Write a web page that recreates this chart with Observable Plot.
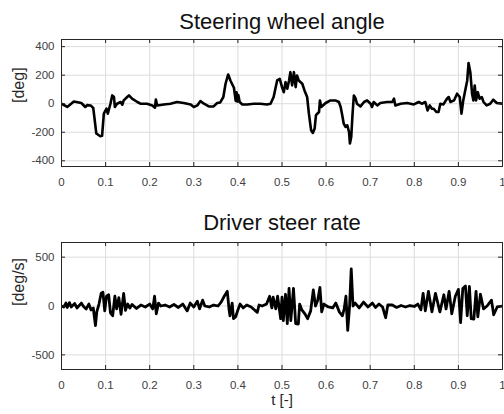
<!DOCTYPE html>
<html>
<head>
<meta charset="utf-8">
<script src="https://cdn.jsdelivr.net/npm/d3@7"></script>
<script src="https://cdn.jsdelivr.net/npm/@observablehq/plot@0.6"></script>
<style>
  html, body { margin: 0; padding: 0; background: #fff; }
  #chart { width: 504px; height: 414px; }
  #chart svg { display: block; }
</style>
</head>
<body>
<div id="chart"></div>
<script>
// ---- data ----
const titles = ["Steering wheel angle", "Driver steer rate"];
const yLabels = ["[deg]", "[deg/s]"];
const xLabel = "t [-]";
const xTicks = [0, 0.1, 0.2, 0.3, 0.4, 0.5, 0.6, 0.7, 0.8, 0.9, 1];
const angleTicks = [-400, -200, 0, 200, 400];
const rateTicks = [-500, 0, 500];

const angleT = [0, 0.013, 0.028, 0.045, 0.054, 0.058, 0.066, 0.072, 0.079, 0.088,
  0.092, 0.096, 0.102, 0.105, 0.111, 0.115, 0.119, 0.121, 0.126, 0.134,
  0.138, 0.141, 0.149, 0.153, 0.160, 0.172, 0.179, 0.194, 0.206, 0.212,
  0.214, 0.217, 0.232, 0.247, 0.262, 0.277, 0.293, 0.300, 0.308, 0.315,
  0.323, 0.334, 0.345, 0.353, 0.360, 0.367, 0.372, 0.378, 0.383, 0.391,
  0.395, 0.397, 0.399, 0.401, 0.404, 0.410, 0.421, 0.436, 0.451, 0.466,
  0.474, 0.481, 0.489, 0.495, 0.500, 0.504, 0.508, 0.512, 0.516, 0.519,
  0.523, 0.527, 0.531, 0.534, 0.538, 0.546, 0.551, 0.557, 0.561, 0.566,
  0.570, 0.574, 0.577, 0.580, 0.584, 0.586, 0.589, 0.599, 0.610, 0.621,
  0.629, 0.633, 0.636, 0.640, 0.644, 0.648, 0.652, 0.654, 0.657, 0.660,
  0.663, 0.667, 0.670, 0.678, 0.686, 0.693, 0.701, 0.704, 0.708, 0.716,
  0.723, 0.738, 0.750, 0.754, 0.757, 0.769, 0.784, 0.799, 0.810, 0.817,
  0.825, 0.830, 0.835, 0.840, 0.844, 0.850, 0.855, 0.859, 0.866, 0.874,
  0.878, 0.882, 0.890, 0.897, 0.903, 0.907, 0.911, 0.914, 0.920, 0.923,
  0.927, 0.931, 0.934, 0.937, 0.940, 0.944, 0.948, 0.953, 0.957, 0.964,
  0.972, 0.979, 0.987, 1.0];
const angle = [0, -23, 16, 5, -23, -10, -12, -30, -209, -228,
  -225, -70, -35, -70, 0, 58, 47, -23, 0, 12,
  -7, 23, 47, 58, 35, 12, 0, 0, -12, -28,
  30, -12, -5, 0, 12, 5, -5, -23, -12, 19,
  0, -19, -19, 5, 9, 47, 140, 205, 163, 112,
  20, 80, 15, 60, 12, -5, -5, 0, 0, -5,
  0, 47, 163, 174, 116, 81, 151, 105, 163, 221,
  128, 221, 116, 198, 163, 140, 93, 47, -70, -186,
  -205, -174, -81, -70, -58, 23, -23, 5, 23, 23,
  12, -23, -70, -140, -163, -151, -198, -279, -233, -70,
  58, 35, 0, -19, 12, 23, 0, -23, 12, -12,
  5, 12, 12, 35, -12, 0, 5, -5, 12, 0,
  12, -47, -12, -35, -35, -58, -58, 0, -5, 35,
  47, 12, 23, 70, 47, -70, 23, 70, 163, 285,
  221, 70, 23, 128, 23, 81, 35, 47, 12, -12,
  0, 28, 5, 0];

const rateT = [0, 0.005, 0.010, 0.013, 0.018, 0.022, 0.030, 0.035, 0.045, 0.050,
  0.056, 0.062, 0.067, 0.072, 0.077, 0.080, 0.085, 0.090, 0.094, 0.098,
  0.102, 0.107, 0.111, 0.116, 0.121, 0.125, 0.130, 0.135, 0.141, 0.145,
  0.150, 0.155, 0.160, 0.170, 0.180, 0.190, 0.200, 0.207, 0.211, 0.215,
  0.220, 0.225, 0.235, 0.245, 0.255, 0.265, 0.275, 0.285, 0.292, 0.300,
  0.308, 0.313, 0.320, 0.325, 0.335, 0.345, 0.355, 0.362, 0.369, 0.376,
  0.380, 0.382, 0.387, 0.390, 0.395, 0.400, 0.405, 0.412, 0.420, 0.430,
  0.444, 0.448, 0.455, 0.465, 0.472, 0.477, 0.480, 0.486, 0.490, 0.497,
  0.500, 0.503, 0.508, 0.512, 0.516, 0.520, 0.526, 0.531, 0.537, 0.540,
  0.545, 0.552, 0.558, 0.565, 0.571, 0.576, 0.581, 0.586, 0.590, 0.595,
  0.605, 0.615, 0.622, 0.630, 0.637, 0.641, 0.645, 0.649, 0.653, 0.657,
  0.661, 0.666, 0.675, 0.685, 0.695, 0.705, 0.712, 0.720, 0.728, 0.735,
  0.740, 0.750, 0.760, 0.770, 0.780, 0.790, 0.800, 0.808, 0.815, 0.820,
  0.825, 0.832, 0.840, 0.848, 0.858, 0.867, 0.872, 0.879, 0.885, 0.893,
  0.900, 0.905, 0.910, 0.916, 0.920, 0.925, 0.929, 0.935, 0.940, 0.944,
  0.950, 0.957, 0.965, 0.975, 0.980, 0.988, 1.0];
const rate = [0, -10, 30, -15, 35, -10, 25, -20, 30, -5,
  -30, 20, -40, -20, -200, -60, 20, 130, 140, -50,
  100, 115, -70, -100, 100, -30, 85, -85, 130, -45,
  20, -20, 15, -25, 10, -10, 20, -30, 100, -80,
  30, 0, 10, -10, 15, -15, 20, -50, 30, -10,
  50, -30, 60, 0, -10, 10, 0, 40, 100, 150,
  -40, -100, 30, -130, -110, -40, 20, -20, 10, -10,
  -65, 10, 0, 20, 100, -20, 90, -30, 100, -130,
  90, -150, 120, -180, 180, -150, 180, -180, -185, 20,
  -40, -80, -130, -50, 165, 0, 60, 190, -60, 20,
  -10, -20, 30, -60, -100, -30, 100, -250, -20, 380,
  0, 30, -20, 40, -10, 30, -15, 20, -10, -120,
  10, 10, -15, 5, -10, 5, -5, 20, -40, 130,
  -50, 150, -60, 130, -60, 115, -30, 150, -80, 100,
  170, -170, 180, 205, -100, 200, -130, -135, 150, -110,
  120, -30, 0, 60, -90, -10, 0];

const angleRows = angleT.map((t, i) => ({t, v: angle[i]}));
const rateRows = rateT.map((t, i) => ({t, v: rate[i]}));

const FONT = "'Liberation Sans', Arial, Helvetica, sans-serif";
const W = 504, ML = 61, MR = 2;
const fmt = d => String(d);

function panel({rows, yDomain, yTicks, height, mt, mb, title, titleDy, ylabel, xlabel, sw}) {
  const fw = W - ML - MR;
  const fh = height - mt - mb;
  const marks = [
    Plot.gridX(xTicks, {stroke: "#dcdcdc", strokeOpacity: 1}),
    Plot.gridY(yTicks, {stroke: "#dcdcdc", strokeOpacity: 1}),
    Plot.line(rows, {x: "t", y: "v", stroke: "#000", strokeWidth: sw, strokeLinejoin: "round", clip: true}),
    Plot.tickX(xTicks, {x: d => d, stroke: "#262626", insetBottom: fh - 4}),
    Plot.tickX(xTicks, {x: d => d, stroke: "#262626", insetTop: fh - 4}),
    Plot.tickY(yTicks, {y: d => d, stroke: "#262626", insetRight: fw - 4}),
    Plot.tickY(yTicks, {y: d => d, stroke: "#262626", insetLeft: fw - 4}),
    Plot.frame({stroke: "#262626", strokeWidth: 1}),
    Plot.axisX(xTicks, {tickSize: 0, tickPadding: 11, tickFormat: fmt, fontSize: 11.5, fill: "#404040", label: null}),
    Plot.axisY(yTicks, {tickSize: 0, tickPadding: 7, tickFormat: fmt, fontSize: 11.5, fill: "#404040", label: null}),
    Plot.text([title], {frameAnchor: "top", lineAnchor: "bottom", dy: titleDy, fontSize: 22, fill: "#111", text: d => d}),
    Plot.text([ylabel], {frameAnchor: "left", rotate: -90, dx: -43, lineAnchor: "middle", fontSize: 16, fill: "#262626", text: d => d})
  ];
  if (xlabel) marks.push(Plot.text([xlabel], {frameAnchor: "bottom", lineAnchor: "bottom", dy: 35, fontSize: 15, fill: "#262626", text: d => d}));
  return Plot.plot({
    width: W, height,
    marginLeft: ML, marginRight: MR, marginTop: mt, marginBottom: mb,
    style: {fontFamily: FONT, background: "#fff", color: "#262626"},
    x: {domain: [0, 1]},
    y: {domain: yDomain},
    marks
  });
}

const el = document.getElementById("chart");
el.appendChild(panel({rows: angleRows, yDomain: [-440, 450], yTicks: angleTicks, height: 205, mt: 39, mb: 39,
  title: titles[0], titleDy: -11, ylabel: yLabels[0], sw: 2.6}));
el.appendChild(panel({rows: rateRows, yDomain: [-650, 650], yTicks: rateTicks, height: 209, mt: 37, mb: 45,
  title: titles[1], titleDy: -13, ylabel: yLabels[1], xlabel: xLabel, sw: 2.8}));
</script>
</body>
</html>
